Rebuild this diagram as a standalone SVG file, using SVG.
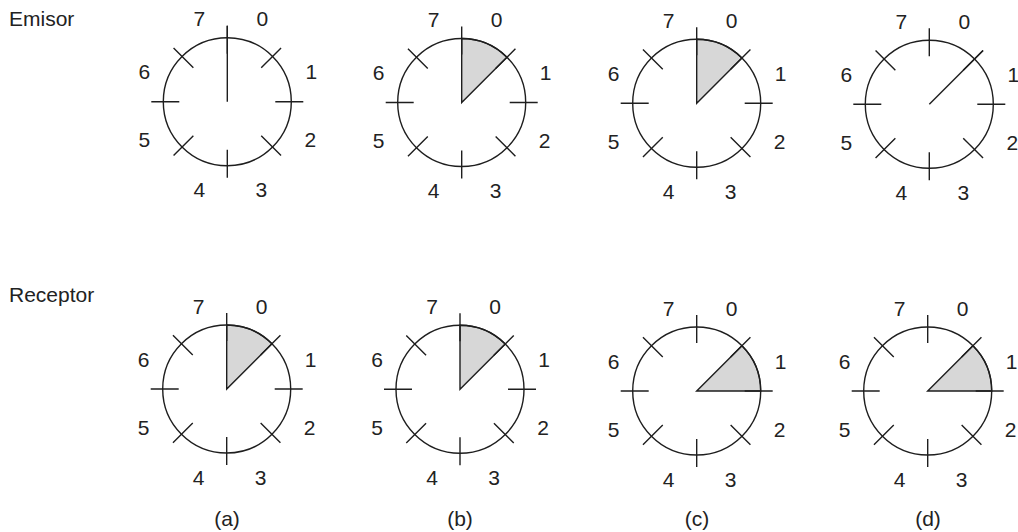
<svg xmlns="http://www.w3.org/2000/svg" xmlns:xlink="http://www.w3.org/1999/xlink" width="1018" height="532" viewBox="0 0 1018 532">
<style>
.ln{fill:none;stroke:#1e1e1e;stroke-width:1.4}
.wd{fill:#d7d7d7;stroke:#1e1e1e;stroke-width:1.4;stroke-linejoin:miter}
text{font-family:"Liberation Sans",Arial,sans-serif;font-size:21px;fill:#222}
.n{text-anchor:middle}
</style>
<defs>
<g id="face">
<circle class="ln" cx="0" cy="0" r="64"/>
<path class="ln" d="M0,-48V-76M33.94,-33.94L53.74,-53.74M48,0H76M33.94,33.94L53.74,53.74M0,48V76M-33.94,33.94L-53.74,53.74M-48,0H-76M-33.94,-33.94L-53.74,-53.74"/>
</g>
</defs>
<rect width="1018" height="532" fill="#fff"/>
<text x="9" y="26">Emisor</text>
<text x="9" y="302">Receptor</text>
<g id="emisor-a" transform="translate(227.3,101.7)">
<use xlink:href="#face" href="#face"/>
<path class="ln" d="M0,0V-76"/>
<text class="n" x="-28" y="-75.5">7</text><text class="n" x="35" y="-75.5">0</text>
<text class="n" x="-83" y="-22.5">6</text><text class="n" x="84" y="-22.5">1</text>
<text class="n" x="-83" y="45.5">5</text><text class="n" x="83" y="45.5">2</text>
<text class="n" x="-28" y="95.5">4</text><text class="n" x="34" y="95.5">3</text>
</g>
<g id="emisor-b" transform="translate(461.7,102.5)">
<path class="wd" d="M0,0V-64A64,64 0 0 1 45.25,-45.25Z"/>
<use xlink:href="#face" href="#face"/>
<text class="n" x="-28" y="-75.5">7</text><text class="n" x="35" y="-75.5">0</text>
<text class="n" x="-83" y="-22.5">6</text><text class="n" x="84" y="-22.5">1</text>
<text class="n" x="-83" y="45.5">5</text><text class="n" x="83" y="45.5">2</text>
<text class="n" x="-28" y="95.5">4</text><text class="n" x="34" y="95.5">3</text>
</g>
<g id="emisor-c" transform="translate(696.7,103.3)">
<path class="wd" d="M0,0V-64A64,64 0 0 1 45.25,-45.25Z"/>
<use xlink:href="#face" href="#face"/>
<text class="n" x="-28" y="-75.5">7</text><text class="n" x="35" y="-75.5">0</text>
<text class="n" x="-83" y="-22.5">6</text><text class="n" x="84" y="-22.5">1</text>
<text class="n" x="-83" y="45.5">5</text><text class="n" x="83" y="45.5">2</text>
<text class="n" x="-28" y="95.5">4</text><text class="n" x="34" y="95.5">3</text>
</g>
<g id="emisor-d" transform="translate(929.3,104.3)">
<use xlink:href="#face" href="#face"/>
<path class="ln" d="M0,0L53.74,-53.74"/>
<text class="n" x="-28" y="-75.5">7</text><text class="n" x="35" y="-75.5">0</text>
<text class="n" x="-83" y="-22.5">6</text><text class="n" x="84" y="-22.5">1</text>
<text class="n" x="-83" y="45.5">5</text><text class="n" x="83" y="45.5">2</text>
<text class="n" x="-28" y="95.5">4</text><text class="n" x="34" y="95.5">3</text>
</g>
<g id="receptor-a" transform="translate(226.7,389)">
<path class="wd" d="M0,0V-64A64,64 0 0 1 45.25,-45.25Z"/>
<use xlink:href="#face" href="#face"/>
<text class="n" x="-28" y="-75.5">7</text><text class="n" x="35" y="-75.5">0</text>
<text class="n" x="-83" y="-22.5">6</text><text class="n" x="84" y="-22.5">1</text>
<text class="n" x="-83" y="45.5">5</text><text class="n" x="83" y="45.5">2</text>
<text class="n" x="-28" y="95.5">4</text><text class="n" x="34" y="95.5">3</text>
</g>
<g id="receptor-b" transform="translate(460,389.3)">
<path class="wd" d="M0,0V-64A64,64 0 0 1 45.25,-45.25Z"/>
<use xlink:href="#face" href="#face"/>
<text class="n" x="-28" y="-75.5">7</text><text class="n" x="35" y="-75.5">0</text>
<text class="n" x="-83" y="-22.5">6</text><text class="n" x="84" y="-22.5">1</text>
<text class="n" x="-83" y="45.5">5</text><text class="n" x="83" y="45.5">2</text>
<text class="n" x="-28" y="95.5">4</text><text class="n" x="34" y="95.5">3</text>
</g>
<g id="receptor-c" transform="translate(696.7,391)">
<path class="wd" d="M0,0L45.25,-45.25A64,64 0 0 1 64,0Z"/>
<use xlink:href="#face" href="#face"/>
<text class="n" x="-28" y="-75.5">7</text><text class="n" x="35" y="-75.5">0</text>
<text class="n" x="-83" y="-22.5">6</text><text class="n" x="84" y="-22.5">1</text>
<text class="n" x="-83" y="45.5">5</text><text class="n" x="83" y="45.5">2</text>
<text class="n" x="-28" y="95.5">4</text><text class="n" x="34" y="95.5">3</text>
</g>
<g id="receptor-d" transform="translate(927.7,391)">
<path class="wd" d="M0,0L45.25,-45.25A64,64 0 0 1 64,0Z"/>
<use xlink:href="#face" href="#face"/>
<text class="n" x="-28" y="-75.5">7</text><text class="n" x="35" y="-75.5">0</text>
<text class="n" x="-83" y="-22.5">6</text><text class="n" x="84" y="-22.5">1</text>
<text class="n" x="-83" y="45.5">5</text><text class="n" x="83" y="45.5">2</text>
<text class="n" x="-28" y="95.5">4</text><text class="n" x="34" y="95.5">3</text>
</g>
<g id="captions">
<text class="n" x="227" y="526">(a)</text>
<text class="n" x="460" y="526">(b)</text>
<text class="n" x="697" y="526">(c)</text>
<text class="n" x="928" y="526">(d)</text>
</g>
</svg>
